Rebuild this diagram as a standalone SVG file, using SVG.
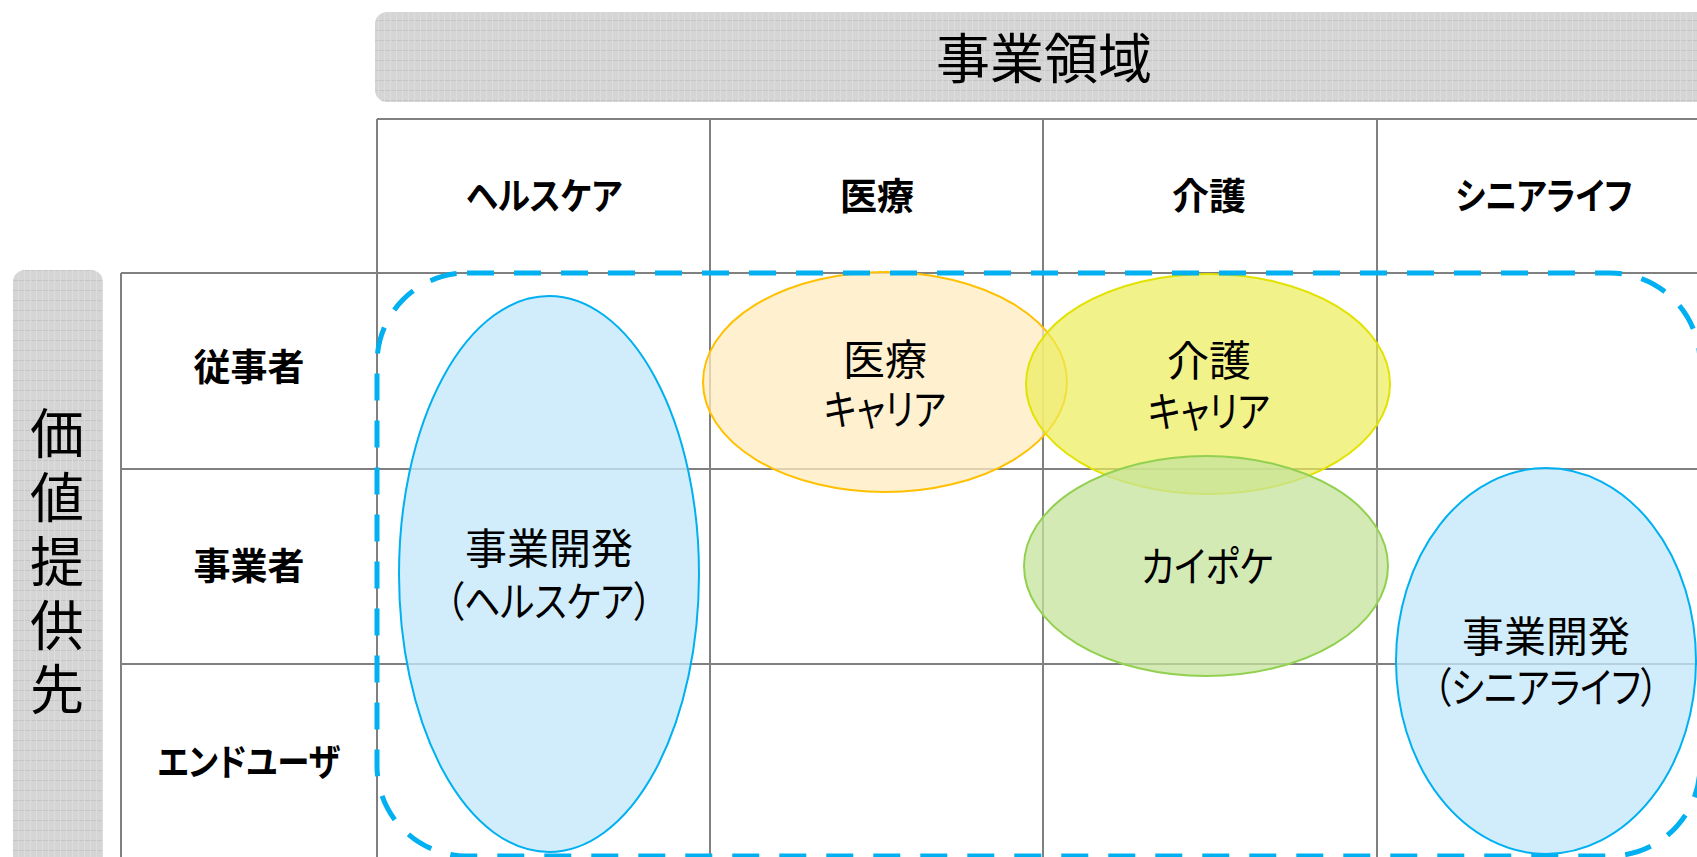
<svg xmlns="http://www.w3.org/2000/svg" width="1697" height="857" viewBox="0 0 1697 857">
  <defs>
    <pattern id="grayTex" width="6" height="10" patternUnits="userSpaceOnUse">
      <rect width="6" height="10" fill="#d5d5d5"/>
      <rect y="0" width="6" height="1" fill="#c6c6c6"/>
      <rect x="0" width="1" height="10" fill="#dcdcdc"/>
    </pattern>
    <style>
      .grid { stroke: #808080; stroke-width: 2; fill: none; }
      .bar { fill: url(#grayTex); }
      .t { font-family: "Noto Sans CJK JP", "Noto Sans CJK SC", sans-serif; fill: #000; text-anchor: middle; dominant-baseline: central; font-feature-settings: "palt"; }
      .big { font-size: 54px; }
      .vert { font-size: 54px; writing-mode: vertical-rl; letter-spacing: 10px; }
      .hd { font-size: 37px; font-weight: bold; }
      .lbl { font-size: 42px; }
      .el { stroke-width: 2; }
      .blue { fill: #c4e8fa; fill-opacity: 0.78; stroke: #00b0f0; }
      .orange { fill: #ffebbf; fill-opacity: 0.75; stroke: #ffc000; }
      .yellow { fill: #ecec5a; fill-opacity: 0.7; stroke: #e2e200; }
      .green { fill: #c6e39c; fill-opacity: 0.75; stroke: #92d050; }
      .dash { fill: none; stroke: #00b0f0; stroke-width: 5; stroke-dasharray: 27 20; }
    </style>
  </defs>
  <rect width="1697" height="857" fill="#ffffff"/>

  <g id="header-bar">
    <rect class="bar" x="375" y="12" width="1340" height="90" rx="12"/>
    <text class="t big" x="1044" y="55">事業領域</text>
  </g>

  <g id="side-bar">
    <rect class="bar" x="13" y="270" width="90" height="610" rx="12"/>
    <text class="t vert" x="57" y="566">価値提供先</text>
  </g>

  <g id="grid">
    <line class="grid" x1="377" y1="119" x2="1697" y2="119"/>
    <line class="grid" x1="121" y1="273" x2="1697" y2="273"/>
    <line class="grid" x1="121" y1="469" x2="1697" y2="469"/>
    <line class="grid" x1="121" y1="664" x2="1697" y2="664"/>
    <line class="grid" x1="121" y1="273" x2="121" y2="857"/>
    <line class="grid" x1="377" y1="119" x2="377" y2="857"/>
    <line class="grid" x1="710" y1="119" x2="710" y2="857"/>
    <line class="grid" x1="1043" y1="119" x2="1043" y2="857"/>
    <line class="grid" x1="1377" y1="119" x2="1377" y2="857"/>
  </g>

  <g id="col-headers">
    <text class="t hd" x="544" y="194" textLength="156" lengthAdjust="spacingAndGlyphs">ヘルスケア</text>
    <text class="t hd" x="877" y="194">医療</text>
    <text class="t hd" x="1209" y="194">介護</text>
    <text class="t hd" x="1544" y="194" textLength="177" lengthAdjust="spacingAndGlyphs">シニアライフ</text>
  </g>

  <g id="row-headers">
    <text class="t hd" x="249" y="365">従事者</text>
    <text class="t hd" x="249" y="564">事業者</text>
    <text class="t hd" x="249" y="760" textLength="183" lengthAdjust="spacingAndGlyphs">エンドユーザ</text>
  </g>

  <g id="node-healthcare">
    <ellipse class="el blue" cx="549" cy="574" rx="150" ry="278"/>
    <text class="t lbl"><tspan x="549" y="545">事業開発</tspan><tspan x="549" y="598" textLength="206" lengthAdjust="spacingAndGlyphs">（ヘルスケア）</tspan></text>
  </g>

  <g id="node-iryo">
    <ellipse class="el orange" cx="885" cy="382" rx="182" ry="110"/>
    <text class="t lbl"><tspan x="885" y="356">医療</tspan><tspan x="885" y="406" textLength="122" lengthAdjust="spacingAndGlyphs">キャリア</tspan></text>
  </g>

  <g id="node-kaigo">
    <ellipse class="el yellow" cx="1208" cy="384" rx="182" ry="110"/>
    <text class="t lbl"><tspan x="1209" y="357">介護</tspan><tspan x="1209" y="408" textLength="122" lengthAdjust="spacingAndGlyphs">キャリア</tspan></text>
  </g>

  <g id="node-kaipoke">
    <ellipse class="el green" cx="1206" cy="566" rx="182" ry="110"/>
    <text class="t lbl" x="1207" y="563" textLength="132" lengthAdjust="spacingAndGlyphs">カイポケ</text>
  </g>

  <g id="node-senior">
    <ellipse class="el blue" cx="1546" cy="661" rx="150" ry="193"/>
    <text class="t lbl"><tspan x="1546" y="633">事業開発</tspan><tspan x="1546" y="684" textLength="225" lengthAdjust="spacingAndGlyphs">（シニアライフ）</tspan></text>
  </g>

  <g id="connectors">
    <rect class="dash" x="377" y="273" width="1323" height="583" rx="90"/>
  </g>
</svg>
